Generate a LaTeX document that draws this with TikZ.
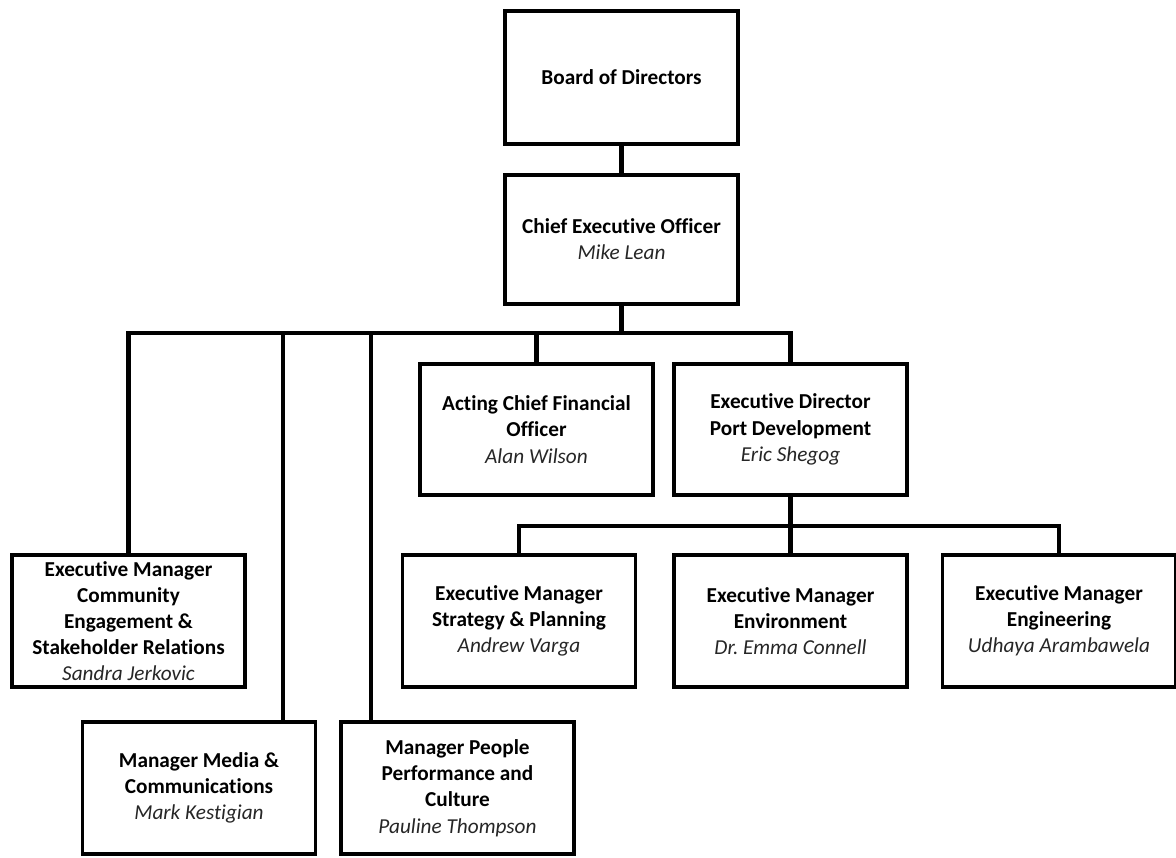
\documentclass[tikz,border=0pt]{standalone}
\usepackage{fontspec}
\setmainfont[Ligatures={NoCommon}]{Carlito}
\usetikzlibrary{positioning}

\begin{document}
\begin{tikzpicture}[
    x=0.02cm, y=-0.02cm,
    post/.style={rectangle, draw=black, line width=2.2pt, fill=white,
                 minimum width=4.66cm, minimum height=2.64cm,
                 align=center, inner sep=2pt,
                 font=\fontsize{12.1}{14.9}\selectfont\bfseries},
    link/.style={draw=black, line width=2.6pt, line join=miter},
]
\newcommand{\who}[1]{\\{\mdseries\itshape\color{black!85}#1}}

\useasboundingbox (0,0) rectangle (1176,858);

% ======================================================
% Top: board and chief executive
% ======================================================
\node[post, minimum height=2.66cm] (board) at (621.5, 77.5) {Board of Directors};
\node[post, minimum height=2.58cm] (ceo) at (621.5, 239.5)
     {Chief Executive Officer\who{Mike Lean}};

% ======================================================
% Second row: direct reports of the CEO
% ======================================================
\node[post, minimum height=2.62cm] (cfo) at (536.5, 429.5)
     {Acting Chief Financial\\Officer\who{Alan Wilson}};
\node[post, minimum height=2.62cm] (edpd) at (790.5, 429.5)
     {Executive Director\\Port Development\who{Eric Shegog}};

\node[post] (comm) at (128.5, 621)
     {Executive Manager\\Community\\Engagement \&\\Stakeholder Relations\who{Sandra Jerkovic}};
\node[post] (media) at (199, 788)
     {Manager Media \&\\Communications\who{Mark Kestigian}};
\node[post] (people) at (457.5, 788)
     {Manager People\\Performance and\\Culture\who{Pauline Thompson}};

% ======================================================
% Third row: reports of port development
% ======================================================
\node[post] (strat) at (519, 621)
     {Executive Manager\\Strategy \& Planning\who{Andrew Varga}};
\node[post] (env) at (790.5, 621)
     {Executive Manager\\Environment\who{Dr.\ Emma Connell}};
\node[post] (eng) at (1059, 621)
     {Executive Manager\\Engineering\who{Udhaya Arambawela}};

% bus lines
\coordinate (bus) at (621.5, 333);
\coordinate (jmedia) at (283, 333);
\coordinate (jpeople) at (371, 333);
\coordinate (sub) at (790.5, 526);

\draw[link] (board.south) -- (ceo.north);
\draw[link] (ceo.south) -- (bus);
\draw[link] (comm.north) |- (edpd.north |- bus) -- (edpd.north);
\draw[link] (cfo.north |- bus) -- (cfo.north);
\draw[link] (jmedia) -- (jmedia |- media.north);
\draw[link] (jpeople) -- (jpeople |- people.north);

\draw[link] (edpd.south) -- (env.north);
\draw[link] (strat.north) |- (eng.north |- sub) -- (eng.north);

\end{tikzpicture}
\end{document}
